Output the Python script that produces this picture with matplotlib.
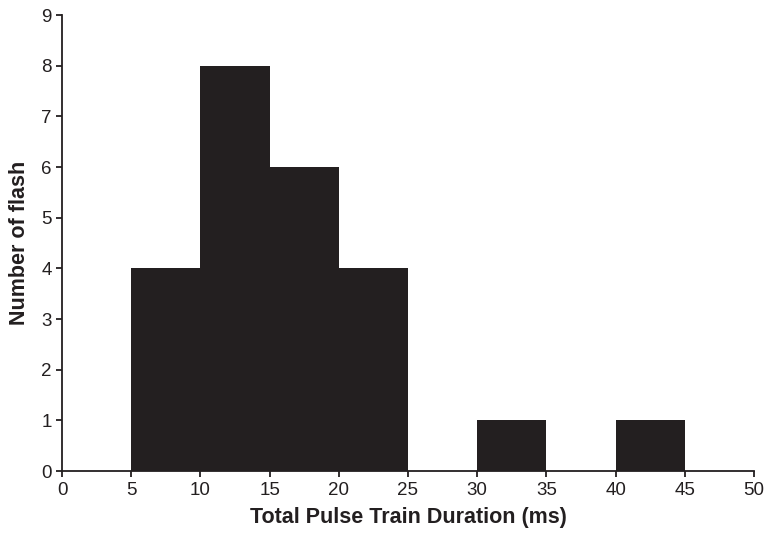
import matplotlib
matplotlib.use("Agg")
import matplotlib.pyplot as plt

bin_left = [0, 5, 10, 15, 20, 25, 30, 35, 40, 45]
counts = [0, 4, 8, 6, 4, 0, 1, 0, 1, 0]
bin_width = 5
xticks = [0, 5, 10, 15, 20, 25, 30, 35, 40, 45, 50]
yticks = [0, 1, 2, 3, 4, 5, 6, 7, 8, 9]

plt.rcParams['font.family'] = ['Liberation Sans', 'DejaVu Sans']

fig = plt.figure(figsize=(7.64, 5.33), dpi=100)
ax = fig.add_axes([62/764, 1-471/533, (754-62)/764, (471-15)/533])

ax.bar(bin_left, counts, width=bin_width, align='edge', color='#231f20',
       edgecolor='none', linewidth=0)

ax.set_xlim(0, 50)
ax.set_ylim(0, 9)
ax.set_xticks(xticks)
ax.set_yticks(yticks)
for s in ['top', 'right']:
    ax.spines[s].set_visible(False)
for s in ['left', 'bottom']:
    ax.spines[s].set_color('#231f20')
    ax.spines[s].set_linewidth(1.3)
ax.tick_params(direction='out', length=4, width=1.3, color='#231f20',
               labelsize=13.5, labelcolor='#231f20')
ax.tick_params(axis='x', pad=4)
ax.tick_params(axis='y', pad=3.5)
ax.set_xlabel('Total Pulse Train Duration (ms)', fontsize=15.5, fontweight='bold',
              color='#231f20', labelpad=6)
ax.set_ylabel('Number of flash', fontsize=15.5, fontweight='bold',
              color='#231f20', labelpad=8)

fig.savefig('out.png', dpi=100)
